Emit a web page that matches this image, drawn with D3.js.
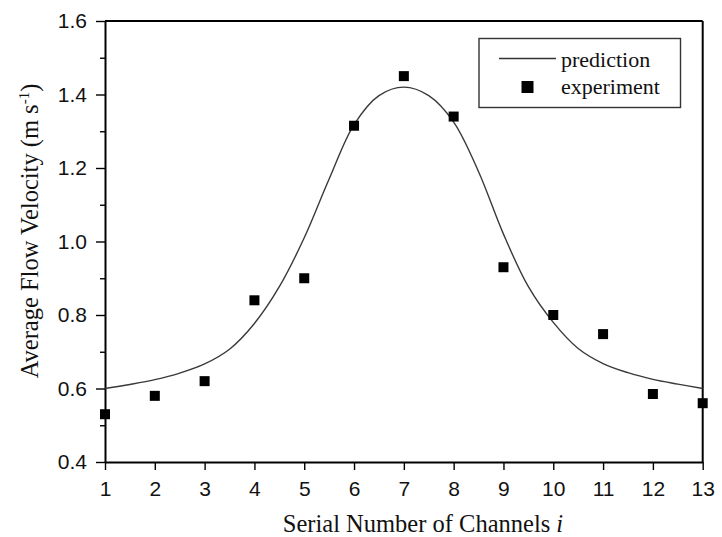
<!DOCTYPE html>
<html>
<head>
<meta charset="utf-8">
<script src="https://cdn.jsdelivr.net/npm/d3@7"></script>
<style>
  html, body { margin: 0; padding: 0; background: #fff; }
  svg { display: block; }
</style>
</head>
<body>
<svg id="chart" width="722" height="537"></svg>
<script>
// Measured average flow velocity per channel
const channels = [1, 2, 3, 4, 5, 6, 7, 8, 9, 10, 11, 12, 13];
const experiment = [0.53, 0.58, 0.62, 0.84, 0.90, 1.315, 1.45, 1.34, 0.93, 0.80, 0.748, 0.585, 0.56];

// Model prediction sampled along the channel index
const predictionX = [1, 1.5, 2, 2.5, 3, 3.5, 4, 4.5, 5, 5.5, 6, 6.5, 7, 7.5, 8, 8.5, 9, 9.5, 10, 10.5, 11, 11.5, 12, 12.5, 13];
const predictionY = [0.600, 0.611, 0.624, 0.642, 0.667, 0.707, 0.777, 0.877, 1.010, 1.170, 1.318, 1.397, 1.420, 1.397, 1.325, 1.190, 1.020, 0.877, 0.780, 0.709, 0.668, 0.643, 0.625, 0.612, 0.600];

// Axis ticks
const xTicks = [1, 2, 3, 4, 5, 6, 7, 8, 9, 10, 11, 12, 13];
const yTicks = [0.4, 0.6, 0.8, 1.0, 1.2, 1.4, 1.6];
const yMinorTicks = [0.5, 0.7, 0.9, 1.1, 1.3, 1.5];

const legendLabels = ["prediction", "experiment"];

const W = 722, H = 537;
const margin = { top: 21, right: 19.3, bottom: 75, left: 105 };
const svg = d3.select("#chart");

const x = d3.scaleLinear().domain([1, 13]).range([margin.left, W - margin.right]);
const y = d3.scaleLinear().domain([0.4, 1.6]).range([H - margin.bottom, margin.top]);

const sansFont = "'Liberation Sans', Arial, Helvetica, sans-serif";
const serifFont = "'Liberation Serif', 'Times New Roman', Times, serif";

// Frame: top and right edges
svg.append("line")
  .attr("x1", x(1)).attr("x2", x(13)).attr("y1", y(1.6)).attr("y2", y(1.6))
  .attr("stroke", "#000").attr("stroke-width", 2);
svg.append("line")
  .attr("x1", x(13)).attr("x2", x(13)).attr("y1", y(0.4)).attr("y2", y(1.6))
  .attr("stroke", "#000").attr("stroke-width", 2);

// Bottom axis
const xAxis = svg.append("g")
  .attr("transform", `translate(0,${y(0.4)})`)
  .call(d3.axisBottom(x).tickValues(xTicks).tickFormat(d3.format("d")).tickSizeInner(8).tickSizeOuter(0).tickPadding(11));
xAxis.select(".domain").attr("stroke-width", 2);
xAxis.selectAll(".tick line").attr("stroke-width", 1.4);
xAxis.selectAll(".tick text")
  .attr("font-family", sansFont).attr("font-size", 21).attr("fill", "#111");

// Left axis
const yAxis = svg.append("g")
  .attr("transform", `translate(${x(1)},0)`)
  .call(d3.axisLeft(y).tickValues(yTicks).tickFormat(d3.format(".1f")).tickSizeInner(9).tickSizeOuter(0).tickPadding(9));
yAxis.select(".domain").attr("stroke-width", 2);
yAxis.selectAll(".tick line").attr("stroke-width", 1.4);
yAxis.selectAll(".tick text")
  .attr("font-family", sansFont).attr("font-size", 21).attr("fill", "#111");

// Minor ticks on the left axis
svg.append("g")
  .attr("transform", `translate(${x(1)},0)`)
  .call(d3.axisLeft(y).tickValues(yMinorTicks).tickFormat("").tickSizeInner(5).tickSizeOuter(0))
  .call(g => g.select(".domain").remove())
  .selectAll(".tick line").attr("stroke-width", 1.4);

// Prediction curve
const line = d3.line()
  .x((d, i) => x(predictionX[i]))
  .y(d => y(d))
  .curve(d3.curveCatmullRom.alpha(0.5));
svg.append("path")
  .datum(predictionY)
  .attr("d", line)
  .attr("fill", "none")
  .attr("stroke", "#3a3a3a")
  .attr("stroke-width", 1.4);

// Experimental points
const ms = 10;
svg.append("g").selectAll("rect")
  .data(experiment)
  .join("rect")
  .attr("x", (d, i) => x(channels[i]) - ms / 2)
  .attr("y", d => y(d) - ms / 2)
  .attr("width", ms).attr("height", ms)
  .attr("fill", "#000");

// Axis titles
svg.append("text")
  .attr("x", 423).attr("y", 532)
  .attr("text-anchor", "middle")
  .attr("font-family", serifFont).attr("font-size", 24.5).attr("fill", "#111")
  .call(t => {
    t.append("tspan").text("Serial Number of Channels ");
    t.append("tspan").attr("font-style", "italic").text("i");
  });

svg.append("text")
  .attr("transform", "translate(38,231) rotate(-90)")
  .attr("text-anchor", "middle")
  .attr("font-family", serifFont).attr("font-size", 24.5).attr("fill", "#111")
  .call(t => {
    t.append("tspan").text("Average Flow Velocity (m s");
    t.append("tspan").attr("font-size", 15).attr("dy", -9).text("-1");
    t.append("tspan").attr("dy", 9).text(")");
  });

// Legend
const legend = svg.append("g");
legend.append("rect")
  .attr("x", 479).attr("y", 38.5).attr("width", 201.5).attr("height", 69)
  .attr("fill", "#fff").attr("stroke", "#333").attr("stroke-width", 1.4);
legend.append("line")
  .attr("x1", 499).attr("x2", 556).attr("y1", 58.5).attr("y2", 58.5)
  .attr("stroke", "#333").attr("stroke-width", 1.4);
legend.append("rect")
  .attr("x", 521.5).attr("y", 81).attr("width", 12).attr("height", 12)
  .attr("fill", "#000");
legend.selectAll("text")
  .data(legendLabels)
  .join("text")
  .attr("x", 561)
  .attr("y", (d, i) => 67 + i * 26.5)
  .attr("font-family", serifFont).attr("font-size", 22).attr("fill", "#111")
  .text(d => d);
</script>
</body>
</html>
